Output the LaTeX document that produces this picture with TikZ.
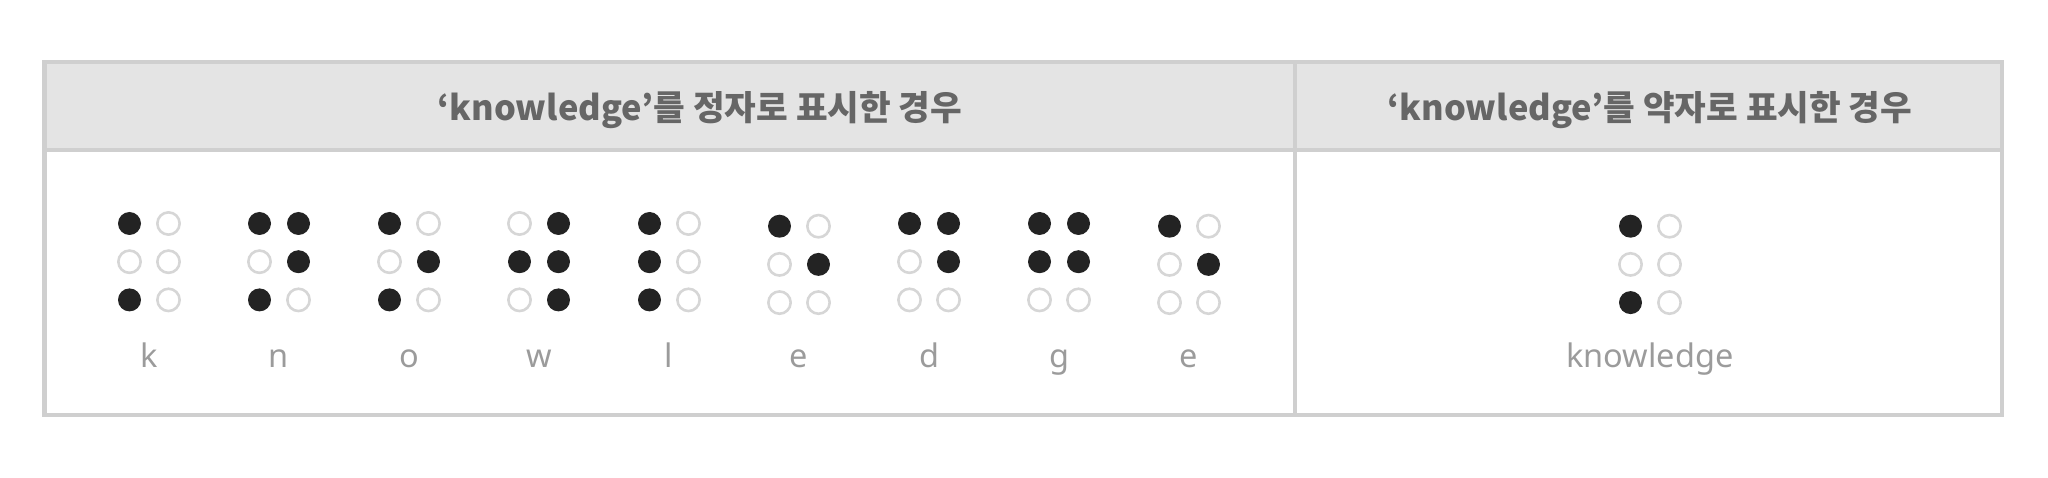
\documentclass[tikz,border=0pt]{standalone}
\usepackage{fontspec}
\newfontfamily\krfont{Noto Sans CJK KR}
\newfontfamily\lblfont{Noto Sans}
\definecolor{bordergray}{HTML}{CFCFCF}
\definecolor{headbg}{HTML}{E4E4E4}
\definecolor{dotdark}{HTML}{232323}
\definecolor{dotlight}{HTML}{D6D6D6}
\definecolor{headtext}{HTML}{666666}
\definecolor{labeltext}{HTML}{9B9B9B}
\tikzset{
  fdot/.style={circle, fill=dotdark, inner sep=0pt, minimum size=23pt},
  edot/.style={circle, draw=dotlight, line width=2.6pt, inner sep=0pt, minimum size=22.3pt},
  lbl/.style={anchor=base, text=labeltext, font=\lblfont\fontsize{32.5}{38}\selectfont, inner sep=0pt},
  headlbl/.style={anchor=base, text=headtext, font=\krfont\bfseries\fontsize{34.4}{40}\selectfont, inner sep=0pt},
  rule/.style={draw=bordergray, line width=4.3pt}
}
\newcommand\brcell[4]{%
  \foreach \v [count=\i from 0] in {#4} {
    \pgfmathtruncatemacro\bcol{\i/3}
    \pgfmathtruncatemacro\brow{mod(\i,3)}
    \ifnum\v=1
      \node[fdot] (#1-\i) at ({#2+(\bcol-0.5)*39},{#3+\brow*38.2}) {};
    \else
      \node[edot] (#1-\i) at ({#2+(\bcol-0.5)*39},{#3+\brow*38.2}) {};
    \fi
  }}
\begin{document}
\begin{tikzpicture}[x=1pt,y=-1pt]
\useasboundingbox (0,0) rectangle (2048,478);
% table
\fill[headbg] (44.5,62) rectangle (2002,149.7);
\draw[rule] (44.5,62) rectangle (2002,415);
\draw[rule] (44.5,149.7) -- (2002,149.7);
\draw[rule] (1295,62) -- (1295,415);
% headers
\node[headlbl] (h1) at (700,121) {‘knowledge’를 정자로 표시한 경우};
\node[headlbl] (h2) at (1650,121) {‘knowledge’를 약자로 표시한 경우};
% cells
\brcell{k}{149}{223.5}{1,0,1,0,0,0}
\brcell{n}{279}{223.5}{1,0,1,1,1,0}
\brcell{o}{409}{223.5}{1,0,1,0,1,0}
\brcell{w}{539}{223.5}{0,1,0,1,1,1}
\brcell{l}{669}{223.5}{1,1,1,0,0,0}
\brcell{ea}{799}{226.2}{1,0,0,0,1,0}
\brcell{d}{929}{223.5}{1,0,0,1,1,0}
\brcell{g}{1059}{223.5}{1,1,0,1,1,0}
\brcell{eb}{1189}{226.2}{1,0,0,0,1,0}
\brcell{kw}{1650}{226.2}{1,0,1,0,0,0}
% labels
\node[lbl] (lk) at (149,367) {k};
\node[lbl] (ln) at (279,367) {n};
\node[lbl] (lo) at (409,367) {o};
\node[lbl] (lw) at (539,367) {w};
\node[lbl] (ll) at (669,367) {l};
\node[lbl] (lea) at (799,367) {e};
\node[lbl] (ld) at (929,367) {d};
\node[lbl] (lg) at (1059,367) {g};
\node[lbl] (leb) at (1189,367) {e};
\node[lbl] (lkw) at (1650,367) {knowledge};
\end{tikzpicture}
\end{document}
